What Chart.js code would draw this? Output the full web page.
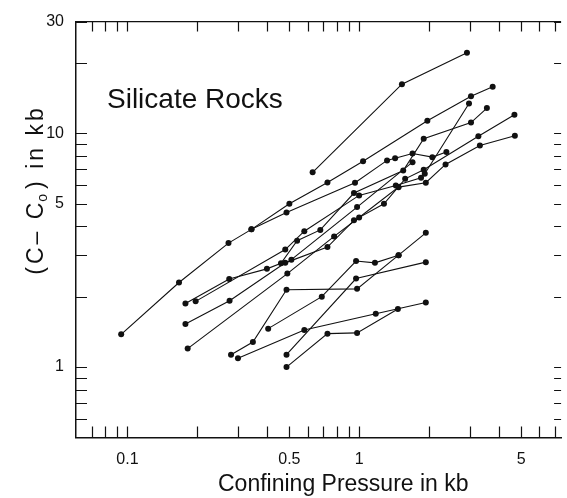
<!DOCTYPE html>
<html>
<head>
<meta charset="utf-8">
<script src="https://cdn.jsdelivr.net/npm/chart.js@4.4.1/dist/chart.umd.min.js"></script>
<style>
html,body{margin:0;padding:0;background:#fff;}
#wrap{width:567px;height:498px;position:relative;}
</style>
</head>
<body>
<div id="wrap"><canvas id="c" width="567" height="498"></canvas></div>
<script>
const FONT = '"Liberation Sans", Arial, sans-serif';
const INK = '#111';

// Axis ranges and ticks
const xRange = [0.06, 7.44];
const yRange = [0.5, 30];
const xMinorTicks = [0.07, 0.08, 0.09, 0.1, 0.2, 0.3, 0.4, 0.5, 0.6, 0.7, 0.8, 0.9, 1, 2, 3, 4, 5, 6, 7];
const xTickLabels = [0.1, 0.5, 1, 5];
const yMinorTicks = [0.6, 0.7, 0.8, 0.9, 1, 2, 3, 4, 5, 6, 7, 8, 9, 10, 20, 30];
const yTickLabels = [1, 5, 10, 30];

// Series: confining pressure (kb) and (C - Co) (kb)
const rockP1 = [0.63, 1.53, 2.92];
const rockC1 = [6.8, 16.2, 22.1];

const rockP2 = [0.094, 0.167, 0.273, 0.343, 0.50, 0.73, 1.04, 1.97, 3.04, 3.77];
const rockC2 = [1.38, 2.30, 3.39, 3.88, 4.99, 6.16, 7.59, 11.3, 14.4, 15.8];

const rockP3 = [0.343, 0.486, 0.96, 1.32, 1.43, 1.70, 2.07, 2.38];
const rockC3 = [3.88, 4.58, 6.14, 7.65, 7.82, 8.19, 7.90, 8.31];

const rockP4 = [0.178, 0.275, 0.40, 0.46, 0.54, 0.68, 0.95, 1.55, 1.90, 3.04, 3.56];
const rockC4 = [1.87, 2.38, 2.63, 2.78, 3.47, 3.86, 5.55, 6.93, 9.47, 11.1, 12.8];

const rockP5 = [0.197, 0.48, 0.58, 1.0, 1.44, 1.85, 1.92, 2.98];
const rockC5 = [1.91, 3.18, 3.81, 5.42, 5.98, 6.45, 6.71, 13.4];

const rockP6 = [0.178, 0.276, 0.48, 0.73, 0.95, 1.28, 1.58, 1.90, 3.27, 4.68];
const rockC6 = [1.53, 1.92, 2.79, 3.26, 4.24, 4.99, 6.38, 6.98, 9.71, 12.0];

const rockP7 = [0.182, 0.49, 0.78, 1.0, 1.48, 1.94, 2.36, 3.32, 4.70];
const rockC7 = [1.20, 2.51, 3.62, 4.36, 5.88, 6.14, 7.35, 8.86, 9.75];

const rockP8 = [0.51, 0.98, 1.70];
const rockC8 = [2.88, 4.83, 7.52];

const rockP9 = [0.28, 0.348, 0.486, 0.98, 1.48, 1.94];
const rockC9 = [1.13, 1.28, 2.14, 2.16, 3.01, 3.75];

const rockP10 = [0.30, 0.58, 1.18, 1.94];
const rockC10 = [1.09, 1.44, 1.69, 1.89];

const rockP11 = [0.486, 0.73, 0.98, 1.47];
const rockC11 = [1.00, 1.39, 1.40, 1.77];

const rockP12 = [0.486, 0.97, 1.94];
const rockC12 = [1.13, 2.39, 2.81];

const rockP13 = [0.405, 0.69, 0.97, 1.17, 1.48];
const rockC13 = [1.46, 2.00, 2.84, 2.79, 3.01];

const seriesList = [
  [rockP1, rockC1], [rockP2, rockC2], [rockP3, rockC3], [rockP4, rockC4],
  [rockP5, rockC5], [rockP6, rockC6], [rockP7, rockC7], [rockP8, rockC8],
  [rockP9, rockC9], [rockP10, rockC10], [rockP11, rockC11], [rockP12, rockC12],
  [rockP13, rockC13]
];

const datasets = seriesList.map(([p, c]) => ({
  data: p.map((v, i) => ({x: v, y: c[i]})),
  showLine: true,
  borderColor: INK,
  borderWidth: 1.1,
  pointRadius: 3,
  pointBackgroundColor: INK,
  pointBorderColor: INK,
  pointBorderWidth: 0
}));

const frameAndText = {
  id: 'frameAndText',
  afterDraw(chart) {
    const {ctx, chartArea: a, scales: {x, y}} = chart;
    ctx.save();
    ctx.strokeStyle = INK;
    ctx.lineWidth = 1.4;
    // top frame line
    ctx.beginPath();
    ctx.moveTo(a.left, a.top);
    ctx.lineTo(a.right, a.top);
    ctx.stroke();
    ctx.lineWidth = 1.2;
    // inward ticks on x (bottom and top)
    x.ticks.forEach(t => {
      const px = Math.round(x.getPixelForValue(t.value)) + 0.5;
      ctx.beginPath();
      ctx.moveTo(px, a.bottom); ctx.lineTo(px, a.bottom - 11);
      ctx.moveTo(px, a.top); ctx.lineTo(px, a.top + 10);
      ctx.stroke();
    });
    // inward ticks on y (left and right)
    y.ticks.forEach(t => {
      const py = Math.round(y.getPixelForValue(t.value)) + 0.5;
      ctx.beginPath();
      ctx.moveTo(a.left, py); ctx.lineTo(a.left + 11, py);
      ctx.moveTo(a.right, py); ctx.lineTo(a.right - 7, py);
      ctx.stroke();
    });

    ctx.fillStyle = INK;
    // annotation
    ctx.font = `28px ${FONT}`;
    ctx.textAlign = 'left';
    ctx.textBaseline = 'alphabetic';
    ctx.fillText('Silicate Rocks', 107, 108);

    // x-axis title
    ctx.font = `23px ${FONT}`;
    ctx.textAlign = 'left';
    ctx.fillText('Confining Pressure in kb', 218, 491);

    // y-axis title with subscript
    ctx.translate(43, 190);
    ctx.rotate(-Math.PI / 2);
    ctx.textAlign = 'left';
    ctx.letterSpacing = '3px';
    const big = `23px ${FONT}`, small = `14px ${FONT}`;
    ctx.font = big;
    const w1 = ctx.measureText('(C\u2013 C').width;
    const w3 = ctx.measureText(') in kb').width;
    ctx.font = small;
    const w2 = ctx.measureText('o').width;
    let sx = -(w1 + w2 + w3) / 2;
    ctx.font = big;
    ctx.fillText('(C\u2013 C', sx, 0);
    sx += w1;
    ctx.font = small;
    ctx.fillText('o', sx - 2, 4);
    sx += w2;
    ctx.font = big;
    ctx.fillText(') in kb', sx, 0);
    ctx.restore();
  }
};

new Chart(document.getElementById('c'), {
  type: 'scatter',
  data: {datasets},
  options: {
    responsive: false,
    animation: false,
    devicePixelRatio: 1,
    layout: {padding: {top: 21, right: 0, left: 0, bottom: 0}},
    plugins: {legend: {display: false}, tooltip: {enabled: false}},
    scales: {
      x: {
        type: 'logarithmic',
        min: xRange[0], max: xRange[1],
        afterBuildTicks: s => { s.ticks = xMinorTicks.map(v => ({value: v})); },
        afterFit: s => { s.height = 60.5; },
        grid: {display: false, drawTicks: false},
        border: {display: true, color: INK, width: 1.5},
        ticks: {
          autoSkip: false, maxRotation: 0, minRotation: 0, padding: 12, color: INK,
          font: {family: FONT, size: 16},
          callback: v => xTickLabels.includes(v) ? String(v) : ''
        }
      },
      y: {
        type: 'logarithmic',
        min: yRange[0], max: yRange[1],
        afterBuildTicks: s => { s.ticks = yMinorTicks.map(v => ({value: v})); },
        afterFit: s => { s.width = 76; },
        grid: {display: false, drawTicks: false},
        border: {display: true, color: INK, width: 1.5},
        ticks: {
          autoSkip: false, padding: 12, color: INK,
          font: {family: FONT, size: 16},
          callback: v => yTickLabels.includes(v) ? String(v) : ''
        }
      }
    }
  },
  plugins: [frameAndText]
});
</script>
</body>
</html>
